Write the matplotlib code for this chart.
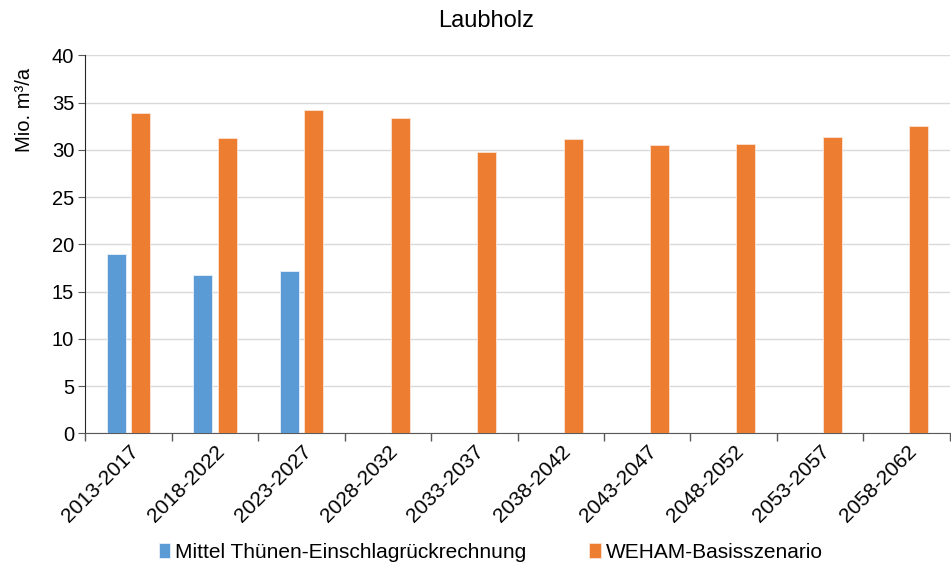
import numpy as np
import matplotlib.pyplot as plt

plt.rcParams['font.family'] = ['Liberation Sans', 'DejaVu Sans']

# data
perioden = ["2013-2017", "2018-2022", "2023-2027", "2028-2032", "2033-2037",
            "2038-2042", "2043-2047", "2048-2052", "2053-2057", "2058-2062"]
thuenen = [19.0, 16.8, 17.2]
weham = [33.9, 31.3, 34.25, 33.4, 29.8, 31.15, 30.5, 30.6, 31.4, 32.55]

fig = plt.figure(figsize=(9.51, 5.65), dpi=100)
ax = fig.add_axes([0.0897, 0.233, 0.909, 0.669])

x = np.arange(len(perioden))
w = 0.22
ax.bar(x[:len(thuenen)] - 0.142, thuenen, w, color='#5B9BD5', edgecolor='#E8F0FA',
       linewidth=0.6, label='Mittel Thünen-Einschlagrückrechnung', zorder=3)
ax.bar(x + 0.142, weham, w, color='#ED7D31', edgecolor='#FBE3D4',
       linewidth=0.6, label='WEHAM-Basisszenario', zorder=3)

ax.set_xlim(-0.5, len(perioden) - 0.5)
ax.set_ylim(0, 40)
ax.set_yticks(range(0, 41, 5))
ax.yaxis.grid(True, color='#D9D9D9', linewidth=1.0, zorder=0)
ax.set_axisbelow(True)

# category ticks between groups, labels centred
ax.set_xticks(np.arange(-0.5, len(perioden), 1.0))
ax.set_xticklabels([])
ax.set_xticks(x, minor=True)
ax.set_xticklabels(perioden, minor=True, rotation=45, ha='right',
                   rotation_mode='anchor', fontsize=15)
ax.tick_params(axis='x', which='minor', length=0, pad=6)
ax.tick_params(axis='x', which='major', length=6, color='#595959', width=1)
ax.tick_params(axis='y', length=5, color='#595959', labelsize=14.5, pad=3)

for s in ['top', 'right']:
    ax.spines[s].set_visible(False)
ax.spines['left'].set_color('#262626')
ax.spines['bottom'].set_color('#595959')

fig.text(0.026, 0.805, 'Mio. m³/a', fontsize=14.5, rotation=90,
         ha='center', va='center')
fig.text(0.511, 0.962, 'Laubholz', fontsize=17, ha='center', va='center')

fig.legend(loc='center', bbox_to_anchor=(0.516, 0.022), ncol=2,
           frameon=False, fontsize=15, handlelength=0.55, handleheight=0.75,
           handletextpad=0.25, columnspacing=3.0)

fig.savefig('out.png', dpi=100)
